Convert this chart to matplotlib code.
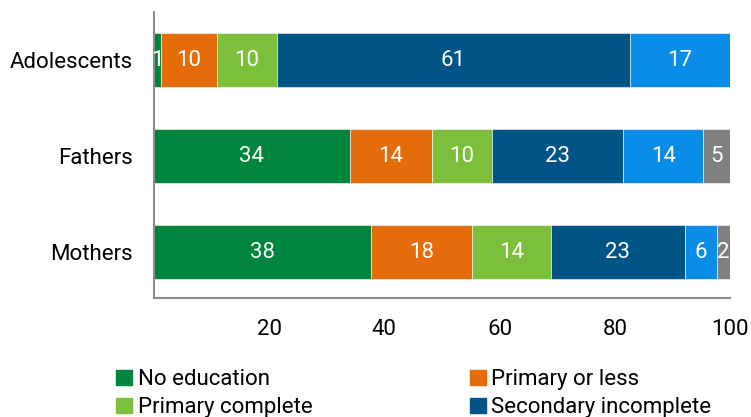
import matplotlib.pyplot as plt
from matplotlib.patches import Patch

plt.rcParams['font.family'] = ['Roboto', 'DejaVu Sans']

groups = ['Adolescents', 'Fathers', 'Mothers']
categories = ['No education', 'Primary or less', 'Primary complete',
              'Secondary incomplete', 'Secondary complete or higher', "Don't know"]
colors = ['#00853F', '#E46C0A', '#7BBF3A', '#005486', '#0A8DE8', '#808080']

# percent shares per group, one list per category
no_education = [1.2, 34.0, 37.6]
primary_or_less = [9.8, 14.3, 17.7]
primary_complete = [10.3, 10.3, 13.6]
secondary_incomplete = [61.3, 22.9, 23.3]
secondary_complete = [17.4, 13.9, 5.6]
dont_know = [0.0, 4.6, 2.2]
series = [no_education, primary_or_less, primary_complete,
          secondary_incomplete, secondary_complete, dont_know]

xticks = [20, 40, 60, 80, 100]

fig = plt.figure(figsize=(7.51, 4.17), dpi=100)
ax = fig.add_axes([0.205, 0.285, 0.767, 0.686])

ypos = [2, 1, 0]
left = [0.0, 0.0, 0.0]
for vals, col in zip(series, colors):
    bars = ax.barh(ypos, vals, left=left, height=0.57, color=col,
                   edgecolor='white', linewidth=0.4)
    for b, v in zip(bars, vals):
        if v > 0:
            ax.text(b.get_x() + b.get_width() / 2, b.get_y() + b.get_height() / 2,
                    f'{v:.0f}', ha='center', va='center', color='white', fontsize=16)
    left = [l + v for l, v in zip(left, vals)]

ax.set_xlim(0, 100)
ax.set_ylim(-0.48, 2.5)
ax.set_yticks(ypos)
ax.set_yticklabels(groups)
ax.set_xticks(xticks)
ax.set_xticklabels([str(t) for t in xticks])
ax.tick_params(axis='both', length=0, labelsize=16, colors='black')
ax.tick_params(axis='x', pad=15)
ax.tick_params(axis='y', pad=15)
for s in ['top', 'right']:
    ax.spines[s].set_visible(False)
for s in ['left', 'bottom']:
    ax.spines[s].set_color('#8c8c8c')
    ax.spines[s].set_linewidth(1.5)

handles = [Patch(color=c, label=l) for c, l in zip(colors[:4], categories[:4])]
# row-wise order for a two-column legend
order = [0, 2, 1, 3]
fig.legend([handles[i] for i in order], [categories[i] for i in order],
           ncol=2, loc='upper left', bbox_to_anchor=(0.155, 0.114),
           frameon=False, fontsize=16, handlelength=0.7, handleheight=0.7,
           handletextpad=0.25, columnspacing=7.1, labelspacing=0.3,
           borderaxespad=0, borderpad=0)

fig.savefig('out.png', dpi=100)
